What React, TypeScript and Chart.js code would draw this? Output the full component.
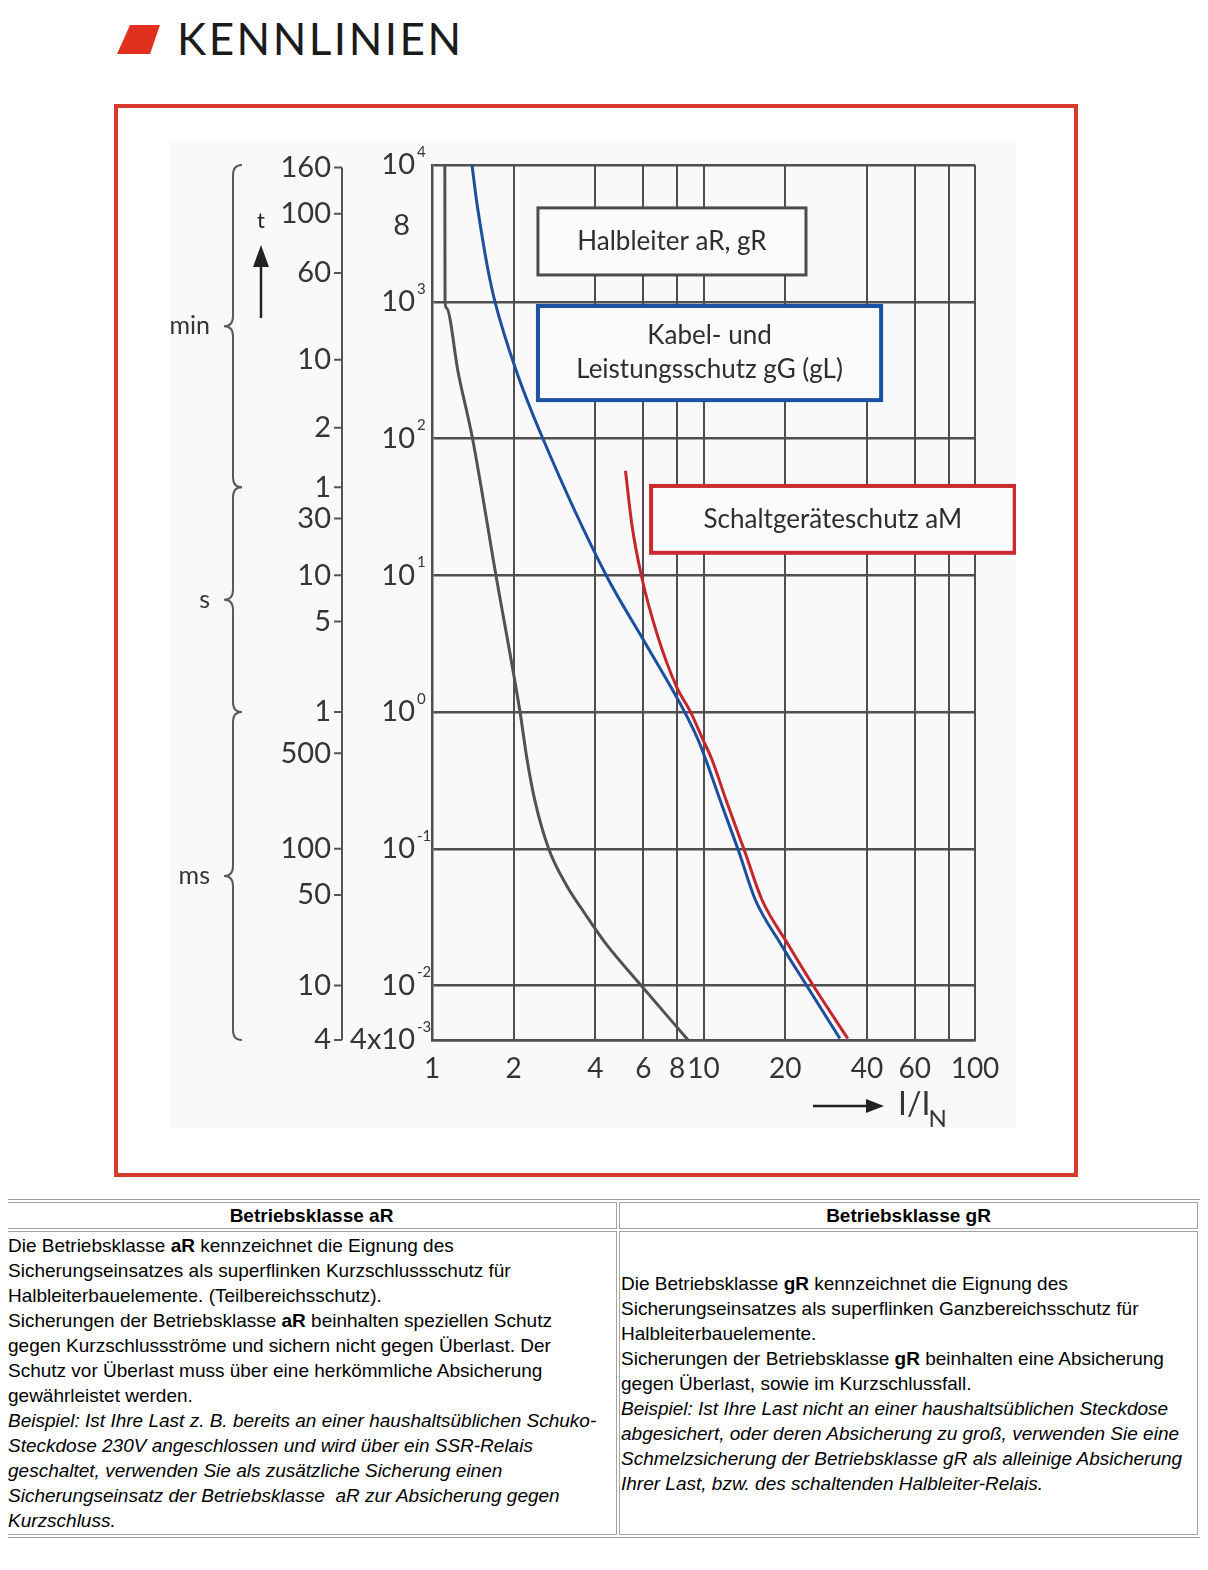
import React, { useEffect, useRef } from 'react';
import { Chart, registerables } from 'chart.js';

Chart.register(...registerables);

// ---------------- data ----------------
// x axis: I / I_N (logarithmic)
const currentGridValues = [1, 2, 4, 6, 8, 10, 20, 40, 60, 80, 100];
const currentTickValues = [1, 2, 4, 6, 8, 10, 20, 40, 60, 100];
const currentTickLabels = ['1', '2', '4', '6', '8', '10', '20', '40', '60', '100'];

// y axis: t in seconds (logarithmic)
const timeGridValues = [0.004, 0.01, 0.1, 1, 10, 100, 1000, 10000];
const secondsTickValues = [10000, 3580, 1000, 100, 10, 1, 0.1, 0.01, 0.004];
const secondsTickBase = ['10', '8', '10', '10', '10', '10', '10', '10', '4x10'];
const secondsTickExp = ['4', '', '3', '2', '1', '0', '-1', '-2', '-3'];

// second time scale (min / s / ms), values in seconds where the labels sit
const unitTickLabels = ['160', '100', '60', '10', '2', '1', '30', '10', '5', '1', '500', '100', '50', '10', '4'];
const unitTickSeconds = [9600, 4400, 1620, 376, 120, 44, 26, 10, 4.6, 1, 0.5, 0.1, 0.046, 0.01, 0.004];
const unitGroupLabels = ['min', 's', 'ms'];
const unitGroupStart = [0, 5, 9];
const unitGroupEnd = [5, 9, 14];

// Halbleiter aR, gR (grey)
const halbleiterI = [1.115, 1.117, 1.13, 1.25, 1.41, 1.72, 2.11, 2.24, 2.39, 2.69, 3.12, 3.66, 4.34, 5.99, 8.77];
const halbleiterT = [10000, 1000, 900, 300, 100, 10, 1, 0.448, 0.228, 0.1, 0.0546, 0.0335, 0.0206, 0.00964, 0.004];

// Kabel- und Leistungsschutz gG (gL) (blue)
const kabelI = [1.404, 1.458, 1.529, 1.608, 1.706, 2.04, 2.56, 4.38, 6.1, 8.48, 9.55, 10.2, 11.5, 13.5, 15.5, 19.3, 24.3, 31.8];
const kabelT = [10000, 5550, 3030, 1707, 1000, 316, 100, 10, 3.2, 1.02, 0.627, 0.448, 0.228, 0.095, 0.0426, 0.02, 0.0096, 0.0041];

// Schaltgeräteschutz aM (red)
const schaltI = [5.16, 5.45, 5.9, 6.75, 7.99, 8.92, 9.96, 10.75, 12.1, 14.2, 16.4, 20.5, 25.7, 34.0];
const schaltT = [58, 23.3, 10, 3.7, 1.5, 1.02, 0.627, 0.448, 0.228, 0.095, 0.0426, 0.02, 0.0096, 0.0041];

// ---------------- styling ----------------
const FONT = 'Lato, "DejaVu Sans", sans-serif';
const TEXT = '#353535';
const GRID = '#4f4f4f';

// annotation boxes, anchored in data coordinates
const annotationBoxes = [
  { lines: ['Halbleiter aR, gR'], color: '#4d4d4d', lw: 3, x0: 2.456, x1: 23.85, y0: 4855, y1: 1570 },
  { lines: ['Kabel- und', 'Leistungsschutz gG (gL)'], color: '#1d52a3', lw: 4, x0: 2.456, x1: 45.1, y0: 931, y1: 191 },
  { lines: ['Schaltgeräteschutz aM'], color: '#cc2a2f', lw: 4, x0: 6.41, x1: 140, y0: 45, y1: 14.6 },
];

const toPoints = (xv: number[], yv: number[]) => xv.map((x, i) => ({ x, y: yv[i] }));

function drawBrace(ctx: CanvasRenderingContext2D, x: number, y0: number, y1: number) {
  const mid = (y0 + y1) / 2;
  const w = 9;
  const r = 10;
  ctx.beginPath();
  ctx.moveTo(x + w, y0);
  ctx.quadraticCurveTo(x, y0, x, y0 + r);
  ctx.lineTo(x, mid - r);
  ctx.quadraticCurveTo(x, mid, x - w, mid);
  ctx.quadraticCurveTo(x, mid, x, mid + r);
  ctx.lineTo(x, y1 - r);
  ctx.quadraticCurveTo(x, y1, x + w, y1);
  ctx.stroke();
}

const decorPlugin = {
  id: 'decor',
  beforeDraw(chart: any) {
    const { ctx, width, height } = chart;
    ctx.save();
    ctx.fillStyle = '#f9f9f9';
    ctx.fillRect(0, 0, width, height);
    ctx.restore();
  },
  beforeDatasetsDraw(chart: any) {
    const { ctx } = chart;
    const xs = chart.scales.x;
    const ys = chart.scales.y;
    ctx.save();
    annotationBoxes.forEach((b) => {
      const l = xs.getPixelForValue(b.x0);
      const r = xs.getPixelForValue(b.x1);
      const t = ys.getPixelForValue(b.y0);
      const btm = ys.getPixelForValue(b.y1);
      ctx.fillStyle = '#fbfbfb';
      ctx.fillRect(l, t, r - l, btm - t);
      ctx.strokeStyle = b.color;
      ctx.lineWidth = b.lw;
      ctx.strokeRect(l, t, r - l, btm - t);
      ctx.fillStyle = '#2e2e2e';
      ctx.font = `26px ${FONT}`;
      ctx.textAlign = 'center';
      ctx.textBaseline = 'middle';
      const cx = (l + r) / 2;
      const cy = (t + btm) / 2;
      const lh = 34;
      b.lines.forEach((s, i) => {
        ctx.fillText(s, cx, cy + (i - (b.lines.length - 1) / 2) * lh);
      });
    });
    ctx.restore();
  },
  afterDraw(chart: any) {
    const { ctx } = chart;
    const ca = chart.chartArea;
    const xs = chart.scales.x;
    const ys = chart.scales.y;
    ctx.save();
    ctx.fillStyle = TEXT;
    ctx.strokeStyle = '#555';
    ctx.textBaseline = 'middle';

    // decade labels 10^n
    const right = ca.left - 17;
    secondsTickValues.forEach((v, i) => {
      const y = ys.getPixelForValue(v);
      const exp = secondsTickExp[i];
      ctx.font = `29px ${FONT}`;
      ctx.textAlign = 'right';
      ctx.fillText(secondsTickBase[i], exp ? right : right - 5, y);
      if (exp) {
        ctx.font = `15px ${FONT}`;
        ctx.textAlign = 'left';
        ctx.fillText(exp, right + 2, y - 13);
      }
    });

    // x tick labels
    ctx.font = `28px ${FONT}`;
    ctx.textAlign = 'center';
    currentTickValues.forEach((v, i) => {
      ctx.fillText(currentTickLabels[i], xs.getPixelForValue(v), ca.bottom + 29);
    });

    // second time axis (min / s / ms)
    const axisX = ca.left - 90;
    const yTop = ys.getPixelForValue(unitTickSeconds[0]);
    const yBot = ys.getPixelForValue(unitTickSeconds[unitTickSeconds.length - 1]);
    ctx.lineWidth = 2;
    ctx.beginPath();
    ctx.moveTo(axisX, yTop);
    ctx.lineTo(axisX, yBot);
    unitTickSeconds.forEach((v) => {
      const y = ys.getPixelForValue(v);
      ctx.moveTo(axisX - 8, y);
      ctx.lineTo(axisX, y);
    });
    ctx.stroke();
    ctx.textAlign = 'right';
    ctx.font = `29px ${FONT}`;
    unitTickSeconds.forEach((v, i) => {
      ctx.fillText(unitTickLabels[i], axisX - 11, ys.getPixelForValue(v));
    });

    // braces + unit names
    const braceX = axisX - 109;
    ctx.lineWidth = 2;
    ctx.strokeStyle = '#5a5a5a';
    unitGroupLabels.forEach((lab, i) => {
      const y0 = i === 0 ? ca.top : ys.getPixelForValue(unitTickSeconds[unitGroupStart[i]]);
      const y1 = ys.getPixelForValue(unitTickSeconds[unitGroupEnd[i]]);
      drawBrace(ctx, braceX, y0, y1);
      ctx.font = `25px ${FONT}`;
      ctx.textAlign = 'right';
      ctx.fillText(lab, braceX - 23, (y0 + y1) / 2);
    });

    // t arrow
    const tx = axisX - 81;
    ctx.fillStyle = '#222';
    ctx.strokeStyle = '#222';
    ctx.font = `22px ${FONT}`;
    ctx.textAlign = 'center';
    ctx.fillText('t', tx, ca.top + 56);
    ctx.lineWidth = 2.5;
    ctx.beginPath();
    ctx.moveTo(tx, ca.top + 153);
    ctx.lineTo(tx, ca.top + 98);
    ctx.stroke();
    ctx.beginPath();
    ctx.moveTo(tx, ca.top + 80);
    ctx.lineTo(tx - 8, ca.top + 102);
    ctx.lineTo(tx + 8, ca.top + 102);
    ctx.closePath();
    ctx.fill();

    // I/I_N arrow
    const ay = ca.bottom + 66;
    const ax1 = ca.right - 91;
    ctx.beginPath();
    ctx.moveTo(ca.right - 162, ay);
    ctx.lineTo(ax1 - 14, ay);
    ctx.stroke();
    ctx.beginPath();
    ctx.moveTo(ax1, ay);
    ctx.lineTo(ax1 - 18, ay - 7);
    ctx.lineTo(ax1 - 18, ay + 7);
    ctx.closePath();
    ctx.fill();
    ctx.fillStyle = TEXT;
    ctx.textAlign = 'left';
    ctx.font = `32px ${FONT}`;
    const lx = ca.right - 77;
    ctx.fillText('I/I', lx, ay - 1);
    const w = ctx.measureText('I/I').width;
    ctx.font = `24px ${FONT}`;
    ctx.fillText('N', lx + w - 2, ay + 13);

    ctx.restore();
  },
};

const curveStyle = {
  borderWidth: 3,
  pointRadius: 0,
  cubicInterpolationMode: 'monotone',
  fill: false,
};

function KennlinienChart() {
  const ref = useRef<HTMLCanvasElement>(null);
  useEffect(() => {
    if (!ref.current) return;
    const chart = new Chart(ref.current, {
      type: 'line',
      data: {
        datasets: [
          {
            label: 'Halbleiter aR, gR',
            data: toPoints(halbleiterI, halbleiterT),
            borderColor: '#525252',
            ...curveStyle,
          },
          {
            label: 'Kabel- und Leistungsschutz gG (gL)',
            data: toPoints(kabelI, kabelT),
            borderColor: '#1c4f9f',
            ...curveStyle,
          },
          {
            label: 'Schaltgeräteschutz aM',
            data: toPoints(schaltI, schaltT),
            borderColor: '#c4262c',
            ...curveStyle,
          },
        ],
      } as any,
      options: {
        animation: false,
        responsive: false,
        devicePixelRatio: 1,
        layout: { padding: { left: 262, right: 41, top: 24, bottom: 88 } },
        plugins: { legend: { display: false }, tooltip: { enabled: false } },
        scales: {
          x: {
            type: 'logarithmic',
            min: 1,
            max: 100,
            ticks: { display: false },
            grid: { color: GRID, lineWidth: 2, drawTicks: false },
            border: { display: true, color: GRID, width: 2.5 },
            afterBuildTicks: (s: any) => {
              s.ticks = currentGridValues.map((v) => ({ value: v }));
            },
          },
          y: {
            type: 'logarithmic',
            min: 0.004,
            max: 10000,
            ticks: { display: false },
            grid: { color: GRID, lineWidth: 2.5, drawTicks: false },
            border: { display: true, color: GRID, width: 2.5 },
            afterBuildTicks: (s: any) => {
              s.ticks = timeGridValues.map((v) => ({ value: v }));
            },
          },
        },
      } as any,
      plugins: [decorPlugin],
    });
    return () => chart.destroy();
  }, []);
  return (
    <canvas
      ref={ref}
      width={846}
      height={987}
      style={{ position: 'absolute', left: 162, top: 133, width: 846, height: 987 }}
    />
  );
}

const cellStyle: React.CSSProperties = {
  border: '1px solid #a3a3a3',
  padding: 1,
  verticalAlign: 'middle',
};

export default function App() {
  return (
    <div style={{ position: 'relative', width: 1192, height: 1545 }}>
      <svg style={{ position: 'absolute', left: 0, top: 0 }} width={200} height={70}>
        <polygon points="122,17 152,17 142,46 109,46" fill="#e2301f" />
      </svg>
      <div
        style={{
          position: 'absolute',
          left: 169,
          top: 8,
          font: `44px ${FONT}`,
          lineHeight: '44px',
          letterSpacing: '2.5px',
          color: '#1b1b1b',
          whiteSpace: 'nowrap',
        }}
      >
        KENNLINIEN
      </div>
      <div
        style={{
          position: 'absolute',
          left: 106,
          top: 96,
          width: 964,
          height: 1073,
          border: '4px solid #d63a2c',
          boxSizing: 'border-box',
        }}
      />
      <KennlinienChart />
      <table
        style={{
          position: 'absolute',
          left: -5,
          top: 1191,
          width: 1198,
          borderCollapse: 'separate',
          borderSpacing: 2,
          border: '1px solid #9a9a9a',
          tableLayout: 'fixed',
          fontFamily: '"Liberation Sans", Arial, sans-serif',
          fontSize: 19,
          lineHeight: '25px',
          color: '#000',
        }}
      >
        <colgroup>
          <col style={{ width: 611 }} />
          <col />
        </colgroup>
        <tbody>
          <tr>
            <td style={{ ...cellStyle, fontWeight: 'bold', textAlign: 'center', lineHeight: '23px' }}>Betriebsklasse aR</td>
            <td style={{ ...cellStyle, fontWeight: 'bold', textAlign: 'center', lineHeight: '23px' }}>Betriebsklasse gR</td>
          </tr>
          <tr>
            <td style={{ ...cellStyle, whiteSpace: 'nowrap' }}>
              Die Betriebsklasse <b>aR</b> kennzeichnet die Eignung des
              <br />
              Sicherungseinsatzes als superflinken Kurzschlussschutz für
              <br />
              Halbleiterbauelemente. (Teilbereichsschutz).
              <br />
              Sicherungen der Betriebsklasse <b>aR</b> beinhalten speziellen Schutz
              <br />
              gegen Kurzschlussströme und sichern nicht gegen Überlast. Der
              <br />
              Schutz vor Überlast muss über eine herkömmliche Absicherung
              <br />
              gewährleistet werden.
              <br />
              <i>
                Beispiel: Ist Ihre Last z. B. bereits an einer haushaltsüblichen Schuko-
                <br />
                Steckdose 230V angeschlossen und wird über ein SSR-Relais
                <br />
                geschaltet, verwenden Sie als zusätzliche Sicherung einen
                <br />
                Sicherungseinsatz der Betriebsklasse{'\u00a0'} aR zur Absicherung gegen
                <br />
                Kurzschluss.
              </i>
            </td>
            <td style={{ ...cellStyle, whiteSpace: 'nowrap' }}>
              Die Betriebsklasse <b>gR</b> kennzeichnet die Eignung des
              <br />
              Sicherungseinsatzes als superflinken Ganzbereichsschutz für
              <br />
              Halbleiterbauelemente.
              <br />
              Sicherungen der Betriebsklasse <b>gR</b> beinhalten eine Absicherung
              <br />
              gegen Überlast, sowie im Kurzschlussfall.
              <br />
              <i>
                Beispiel: Ist Ihre Last nicht an einer haushaltsüblichen Steckdose
                <br />
                abgesichert, oder deren Absicherung zu groß, verwenden Sie eine
                <br />
                Schmelzsicherung der Betriebsklasse gR als alleinige Absicherung
                <br />
                Ihrer Last, bzw. des schaltenden Halbleiter-Relais.
              </i>
            </td>
          </tr>
        </tbody>
      </table>
    </div>
  );
}
